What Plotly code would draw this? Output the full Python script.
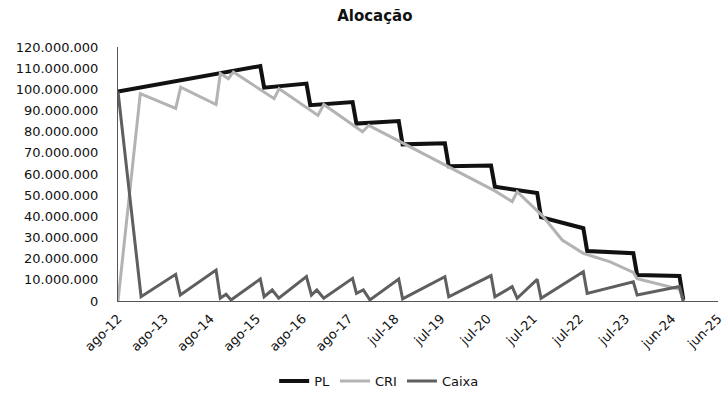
import numpy as np
import plotly.graph_objects as go

# x = month index since ago-12 (category position), y = value in millions of R$
tick_labels = ["ago-12", "ago-13", "ago-14", "ago-15", "ago-16", "ago-17", "jul-18",
               "jul-19", "jul-20", "jul-21", "jul-22", "jul-23", "jun-24", "jun-25"]
tick_pos = [0, 12, 24, 36, 48, 60, 72, 84, 96, 108, 120, 132, 144, 156]

pl_mes = [0, 16, 37, 38, 49, 50, 61, 62, 73, 74, 85, 86, 97, 98, 109, 110,
          121, 122, 134, 135, 146, 147]
pl_mi = [99.0, 104.0, 111.0, 100.8, 102.7, 92.5, 94.0, 83.8, 85.0, 74.0, 74.5, 63.7,
         64.0, 54.0, 51.0, 39.6, 34.4, 23.6, 22.6, 12.3, 11.8, 0.5]

cri_mes = [0, 5.8, 15, 16.3, 25.5, 26.6, 28.7, 30, 40.6, 41.9, 52, 53.5, 63.6, 65.2,
           98, 102.5, 103.8, 110.5, 115.5, 121, 128, 134, 135, 146, 147]
cri_mi = [0.0, 98.0, 91.0, 101.0, 92.8, 107.5, 105.0, 108.2, 95.6, 100.3, 87.7, 92.8,
          80.0, 83.0, 52.0, 47.0, 51.6, 40.0, 28.8, 22.5, 18.5, 13.5, 10.5, 5.5, 0.0]

caixa_mes = [0, 6, 15, 16.2, 25.5, 26.6, 28.1, 29.4, 37, 38, 40.1, 41.8, 49, 50.3,
             51.7, 53.5, 61, 62, 63.8, 65.5, 73, 74, 85, 86, 97, 98, 102.5, 103.8,
             109, 110, 121, 122, 134, 135, 146, 147]
caixa_mi = [99.0, 2.0, 12.6, 2.8, 14.6, 1.3, 3.2, 0.5, 10.4, 2.0, 5.2, 1.3, 11.5, 2.8,
            5.2, 1.3, 10.7, 3.6, 5.2, 0.5, 10.4, 1.0, 11.5, 2.0, 12.0, 2.0, 6.8, 1.3,
            10.2, 1.3, 13.8, 3.6, 9.1, 2.8, 6.8, 0.0]

y_ticks_mi = [0, 10, 20, 30, 40, 50, 60, 70, 80, 90, 100, 110, 120]

MI = 1e6
FONT = "DejaVu Sans"

fig = go.Figure()
fig.add_trace(go.Scatter(x=pl_mes, y=np.array(pl_mi) * MI, mode="lines", name="PL",
                         line=dict(color="#111111", width=4)))
fig.add_trace(go.Scatter(x=cri_mes, y=np.array(cri_mi) * MI, mode="lines", name="CRI",
                         line=dict(color="#b3b3b3", width=3)))
fig.add_trace(go.Scatter(x=caixa_mes, y=np.array(caixa_mi) * MI, mode="lines", name="Caixa",
                         line=dict(color="#5f5f5f", width=3)))

fig.update_layout(
    width=725, height=397,
    margin=dict(l=118, r=7, t=47, b=96),
    paper_bgcolor="white", plot_bgcolor="white",
    separators=",.",
    font=dict(family=FONT, size=13, color="#111111"),
    title=dict(text="<b>Alocação</b>", x=0.517, xref="container", xanchor="center",
               y=0.96, yref="container", yanchor="middle",
               font=dict(family=FONT, size=15, color="#111111")),
    showlegend=True,
    legend=dict(orientation="h", x=0.523, xanchor="center", xref="container",
                y=0.04, yref="container", yanchor="middle",
                font=dict(family=FONT, size=13, color="#111111"),
                itemwidth=30, bgcolor="rgba(0,0,0,0)"),
    xaxis=dict(range=[0, 156.02], tickmode="array", tickvals=tick_pos, ticktext=tick_labels,
               tickangle=-45, showgrid=False, zeroline=False, showline=True,
               linecolor="#555555", linewidth=1, ticks="", ticklabelstandoff=4,
               ticklabeloverflow="allow", automargin=False,
               tickfont=dict(family=FONT, size=13)),
    yaxis=dict(range=[0, 120 * MI], tickmode="array",
               tickvals=[v * MI for v in y_ticks_mi], tickformat=",.0f",
               showgrid=False, zeroline=False, showline=True, linecolor="#555555",
               linewidth=1, ticks="", ticklabelstandoff=16, automargin=False,
               tickfont=dict(family=FONT, size=13)),
)

fig.write_html("out.html")
